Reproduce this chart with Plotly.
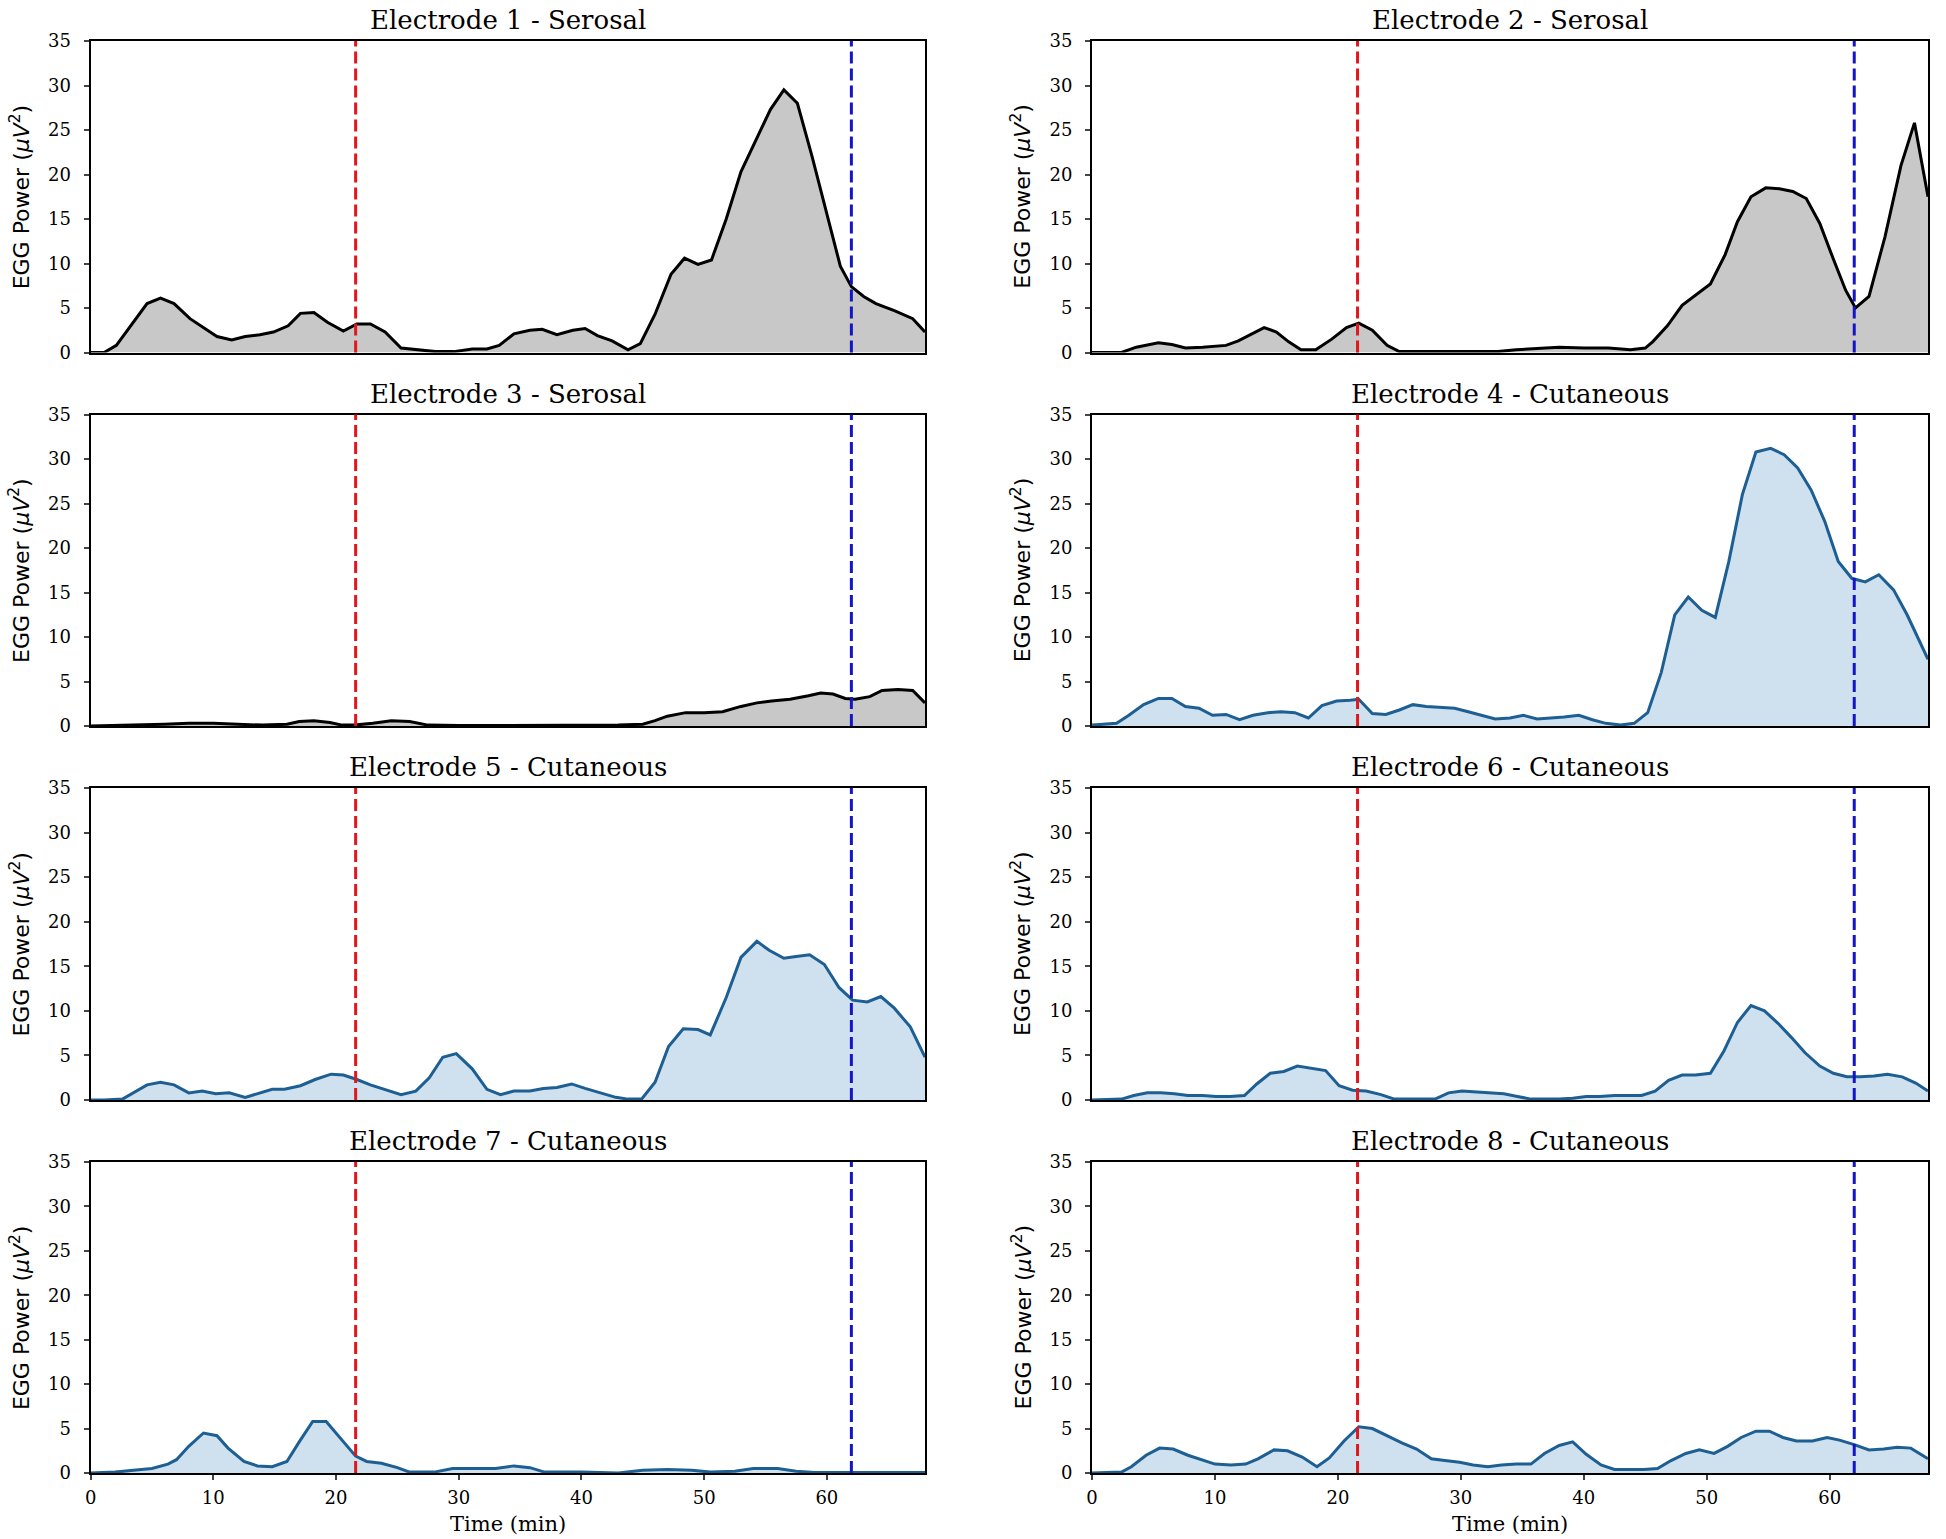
import plotly.graph_objects as go

# ---------------- data ----------------
titles = ["Electrode 1 - Serosal", "Electrode 2 - Serosal", "Electrode 3 - Serosal",
          "Electrode 4 - Cutaneous", "Electrode 5 - Cutaneous", "Electrode 6 - Cutaneous",
          "Electrode 7 - Cutaneous", "Electrode 8 - Cutaneous"]
kinds = ["serosal", "serosal", "serosal", "cutaneous", "cutaneous", "cutaneous", "cutaneous", "cutaneous"]
y_label = "EGG Power (<i>μV</i><sup>2</sup>)"
x_label = "Time (min)"

e1_t = [0, 1.1, 2.1, 4.6, 5.7, 6.8, 8.1, 9.3, 10.3, 11.5, 12.6, 13.8, 14.9, 16.1, 17.1, 18.2, 19.3, 20.6,
        21.7, 22.8, 24.0, 25.3, 26.6, 28.1, 29.6, 31.1, 32.3, 33.3, 34.5, 35.8, 36.8, 38.0, 39.3, 40.3,
        41.3, 42.5, 43.8, 44.8, 46.0, 47.3, 48.4, 49.5, 50.6, 51.8, 53.0, 54.3, 55.4, 56.5, 57.6, 58.8,
        60.0, 61.1, 62.0, 63.0, 64.0, 65.5, 67.0, 68.0]
e1_v = [0, 0, 0.8, 5.5, 6.1, 5.5, 3.8, 2.7, 1.8, 1.4, 1.8, 2.0, 2.3, 3.0, 4.4, 4.5, 3.4, 2.4,
        3.2, 3.2, 2.3, 0.5, 0.3, 0.1, 0.1, 0.4, 0.4, 0.8, 2.1, 2.5, 2.6, 2.0, 2.5, 2.7,
        1.9, 1.3, 0.3, 1.0, 4.3, 8.8, 10.6, 9.9, 10.4, 15.0, 20.3, 24.0, 27.3, 29.5, 28.0, 22.0,
        15.5, 9.7, 7.4, 6.3, 5.5, 4.7, 3.8, 2.3]

e2_t = [0, 2.4, 3.6, 5.4, 6.5, 7.6, 9.0, 10.9, 11.9, 13.1, 14.0, 15.0, 16.0, 17.0, 18.2, 19.5, 20.7,
        21.7, 22.8, 24.0, 25.0, 27.0, 30.0, 33.0, 34.5, 36.4, 38.0, 40.0, 42.0, 43.8, 45.0, 45.6,
        46.8, 48.0, 49.2, 50.3, 51.5, 52.5, 53.6, 54.8, 55.9, 57.0, 58.1, 59.2, 60.3, 61.3, 62.1,
        63.2, 64.5, 65.8, 66.9, 68.0]
e2_v = [0, 0, 0.6, 1.1, 0.9, 0.5, 0.6, 0.8, 1.3, 2.2, 2.8, 2.3, 1.2, 0.3, 0.3, 1.5, 2.8,
        3.3, 2.5, 0.8, 0.1, 0.1, 0.1, 0.1, 0.3, 0.5, 0.6, 0.5, 0.5, 0.3, 0.5, 1.2,
        3.0, 5.3, 6.5, 7.7, 11.0, 14.7, 17.5, 18.5, 18.4, 18.1, 17.3, 14.5, 10.5, 7.0, 5.0,
        6.3, 13.0, 21.0, 25.8, 17.5]

e3_t = [0, 5, 6, 8, 10, 12, 14, 16, 17, 18.2, 19.5, 20.5, 21.5, 23, 24.5, 26, 27.5, 30, 35, 40,
        43, 45, 46, 47, 48.5, 50, 51.5, 53, 54.3, 55.5, 57, 58.5, 59.5, 60.5, 61.5, 62.3, 63.5,
        64.5, 65.8, 67, 68]
e3_v = [0, 0.1, 0.2, 0.3, 0.3, 0.2, 0.1, 0.2, 0.5, 0.6, 0.4, 0.1, 0.1, 0.3, 0.6, 0.5, 0.1, 0.05, 0.05, 0.1,
        0.1, 0.2, 0.6, 1.1, 1.5, 1.5, 1.6, 2.2, 2.6, 2.8, 3.0, 3.4, 3.7, 3.6, 3.1, 3.0, 3.3,
        4.0, 4.1, 4.0, 2.6]

e4_t = [0, 1.0, 2.0, 3.0, 4.2, 5.4, 6.5, 7.6, 8.7, 9.8, 10.9, 12.0, 13.1, 14.3, 15.4, 16.5, 17.6,
        18.7, 19.9, 21.0, 21.7, 22.8, 23.9, 25.0, 26.1, 27.2, 28.4, 29.5, 30.6, 31.7, 32.8, 34.0,
        35.1, 36.2, 37.3, 38.4, 39.6, 40.7, 41.8, 43.0, 44.1, 45.2, 46.3, 47.4, 48.5, 49.6, 50.7,
        51.8, 52.9, 54.0, 55.2, 56.3, 57.4, 58.5, 59.6, 60.7, 61.8, 62.9, 64.0, 65.2, 66.3, 68.0]
e4_v = [0.1, 0.2, 0.3, 1.2, 2.4, 3.1, 3.1, 2.2, 2.0, 1.2, 1.3, 0.7, 1.2, 1.5, 1.6, 1.5, 0.9,
        2.3, 2.8, 2.9, 3.0, 1.4, 1.3, 1.8, 2.4, 2.2, 2.1, 2.0, 1.6, 1.2, 0.8, 0.9,
        1.2, 0.8, 0.9, 1.0, 1.2, 0.7, 0.3, 0.1, 0.3, 1.5, 6.0, 12.5, 14.5, 13.0, 12.2,
        18.5, 26.0, 30.8, 31.2, 30.5, 29.0, 26.5, 23.0, 18.5, 16.6, 16.2, 17.0, 15.3, 12.5, 7.5]

e5_t = [0, 1.1, 2.6, 4.6, 5.7, 6.8, 8.0, 9.1, 10.2, 11.3, 12.6, 13.6, 14.8, 15.8, 17.1, 18.3, 19.6,
        20.6, 21.7, 22.8, 24.1, 25.3, 26.5, 27.6, 28.7, 29.8, 31.1, 32.3, 33.4, 34.5, 35.8, 36.9,
        38.0, 39.2, 40.3, 41.5, 42.8, 43.8, 44.9, 46.0, 47.1, 48.3, 49.5, 50.5, 51.8, 53.0, 54.3,
        55.3, 56.5, 57.5, 58.6, 59.8, 61.0, 62.1, 63.3, 64.4, 65.5, 66.8, 68.0]
e5_v = [0, 0, 0.1, 1.7, 2.0, 1.7, 0.8, 1.0, 0.7, 0.8, 0.3, 0.7, 1.2, 1.2, 1.6, 2.3, 2.9,
        2.8, 2.3, 1.7, 1.1, 0.6, 1.0, 2.5, 4.8, 5.2, 3.5, 1.2, 0.6, 1.0, 1.0, 1.3,
        1.4, 1.8, 1.3, 0.8, 0.3, 0.1, 0.1, 2.0, 6.0, 8.0, 7.9, 7.3, 11.5, 16.0, 17.8,
        16.8, 15.9, 16.1, 16.3, 15.2, 12.6, 11.2, 11.0, 11.6, 10.3, 8.2, 4.8]

e6_t = [0, 2.4, 3.4, 4.5, 5.6, 6.7, 7.8, 9.0, 10.1, 11.2, 12.4, 13.4, 14.5, 15.6, 16.7, 17.8, 19.0,
        20.1, 21.2, 22.3, 23.5, 24.6, 25.7, 26.8, 27.9, 29.0, 30.1, 31.3, 32.4, 33.5, 34.6, 35.7,
        36.8, 38.0, 39.1, 40.2, 41.3, 42.5, 43.6, 44.7, 45.8, 46.9, 48.0, 49.1, 50.3, 51.4, 52.5,
        53.6, 54.7, 55.8, 56.9, 58.0, 59.2, 60.3, 61.4, 62.5, 63.6, 64.7, 65.9, 67.0, 68.0]
e6_v = [0, 0.1, 0.5, 0.8, 0.8, 0.7, 0.5, 0.5, 0.4, 0.4, 0.5, 1.8, 3.0, 3.2, 3.8, 3.6, 3.3,
        1.6, 1.1, 1.0, 0.6, 0.1, 0.1, 0.1, 0.1, 0.8, 1.0, 0.9, 0.8, 0.7, 0.4, 0.1,
        0.1, 0.1, 0.2, 0.4, 0.4, 0.5, 0.5, 0.5, 1.0, 2.2, 2.8, 2.8, 3.0, 5.5, 8.7,
        10.6, 10.0, 8.6, 7.0, 5.3, 3.8, 3.0, 2.6, 2.6, 2.7, 2.9, 2.6, 1.9, 1.0]

e7_t = [0, 2, 3.5, 5, 6.3, 7, 8, 9.2, 10.3, 11.2, 12.5, 13.6, 14.8, 16, 17, 18.1, 19.2, 20.3,
        21.6, 22.5, 23.7, 25, 26, 28, 29.5, 31, 33, 34.5, 35.8, 37, 40, 43, 45, 47, 49, 50.5,
        52.5, 54, 56, 57.5, 59, 62, 68]
e7_v = [0, 0.1, 0.3, 0.5, 1.0, 1.5, 3.0, 4.5, 4.2, 2.8, 1.3, 0.8, 0.7, 1.3, 3.5, 5.8, 5.8, 4.0,
        1.9, 1.3, 1.1, 0.6, 0.1, 0.1, 0.5, 0.5, 0.5, 0.8, 0.6, 0.1, 0.1, 0.0, 0.3, 0.4, 0.3, 0.1,
        0.2, 0.5, 0.5, 0.2, 0.05, 0.05, 0.05]

e8_t = [0, 2.4, 3.2, 4.4, 5.5, 6.6, 7.8, 9.0, 10.0, 11.3, 12.5, 13.5, 14.8, 15.9, 17.1, 18.3, 19.3,
        20.5, 21.7, 22.8, 24.0, 25.2, 26.4, 27.6, 28.7, 29.9, 31.0, 32.2, 33.3, 34.5, 35.7, 36.8,
        38.0, 39.1, 40.2, 41.4, 42.5, 43.7, 44.9, 46.0, 47.1, 48.3, 49.4, 50.6, 51.7, 52.8, 54.0,
        55.1, 56.2, 57.3, 58.6, 59.8, 60.8, 62.0, 63.2, 64.4, 65.5, 66.6, 68.0]
e8_v = [0, 0.1, 0.7, 2.0, 2.8, 2.7, 2.0, 1.5, 1.0, 0.9, 1.0, 1.6, 2.6, 2.5, 1.8, 0.7, 1.7,
        3.6, 5.2, 5.0, 4.2, 3.4, 2.7, 1.6, 1.4, 1.2, 0.9, 0.7, 0.9, 1.0, 1.0, 2.2,
        3.1, 3.5, 2.1, 0.9, 0.4, 0.4, 0.4, 0.5, 1.4, 2.2, 2.6, 2.2, 3.0, 4.0, 4.7,
        4.7, 4.0, 3.6, 3.6, 4.0, 3.7, 3.2, 2.6, 2.7, 2.9, 2.8, 1.6]

times = [e1_t, e2_t, e3_t, e4_t, e5_t, e6_t, e7_t, e8_t]
values = [e1_v, e2_v, e3_v, e4_v, e5_v, e6_v, e7_v, e8_v]

meal_start = 21.6   # red dashed marker (min)
meal_end = 62.0     # blue dashed marker (min)
x_ticks = [0, 10, 20, 30, 40, 50, 60]
y_ticks = [0, 5, 10, 15, 20, 25, 30, 35]

# ---------------- styling ----------------
W, H = 1946, 1539
col_px = [(90.6, 925.0), (1092.0, 1928.0)]
row_px = [(41, 352.5), (414.6, 726), (788, 1100), (1162, 1473)]
col_x = [(a / W, b / W) for a, b in col_px]
row_dom = [(1 - b / H, 1 - t / H) for t, b in row_px]

style = {
    "serosal": dict(line="#000000", fill="#c8c8c8"),
    "cutaneous": dict(line="#1d5f93", fill="#cfe1ee"),
}
serif = "DejaVu Serif"

fig = go.Figure()
annotations = []
shapes = []
for i in range(8):
    r, c = divmod(i, 2)
    n = i + 1
    xa = "x" if n == 1 else f"x{n}"
    ya = "y" if n == 1 else f"y{n}"
    st = style[kinds[i]]
    fig.add_trace(go.Scatter(x=times[i], y=values[i], mode="lines", fill="tozeroy",
                             fillcolor=st["fill"], line=dict(color=st["line"], width=3),
                             xaxis=xa, yaxis=ya, showlegend=False, hoverinfo="skip"))
    bottom = (r == 3)
    fig.layout[("xaxis" if n == 1 else f"xaxis{n}")] = dict(
        domain=list(col_x[c]), range=[0, 68], anchor=ya, tickvals=x_ticks, automargin=False,
        showticklabels=bottom, ticks="outside" if bottom else "", ticklen=5, tickwidth=1.5,
        ticklabelstandoff=2,
        showline=True, mirror=True, linecolor="black", linewidth=2, showgrid=False, zeroline=False,
        tickfont=dict(family=serif, size=18, color="black"),
    )
    fig.layout[("yaxis" if n == 1 else f"yaxis{n}")] = dict(
        domain=list(row_dom[r]), range=[0, 35], anchor=xa, tickvals=y_ticks, automargin=False,
        ticks="outside", ticklen=5, tickwidth=1.5, ticklabelstandoff=9,
        showline=True, mirror=True, linecolor="black", linewidth=2, showgrid=False, zeroline=False,
        tickfont=dict(family=serif, size=18, color="black"),
    )
    for xv, colr in [(meal_start, "#e3161c"), (meal_end, "#1515c8")]:
        shapes.append(dict(type="line", xref=xa, yref=f"{ya} domain", x0=xv, x1=xv, y0=0, y1=1,
                           line=dict(color=colr, width=3, dash="12px,5px"), layer="above"))
    # panel title
    annotations.append(dict(text=titles[i], xref="paper", yref="paper",
                            x=(col_x[c][0] + col_x[c][1]) / 2, y=row_dom[r][1],
                            xanchor="center", yanchor="bottom", yshift=4, showarrow=False,
                            font=dict(family=serif, size=26, color="black")))
    # y axis title
    annotations.append(dict(text=y_label, xref="paper", yref="paper",
                            x=(col_px[c][0] - 71) / W, y=(row_dom[r][0] + row_dom[r][1]) / 2,
                            xanchor="center", yanchor="middle", textangle=-90, showarrow=False,
                            font=dict(family="DejaVu Sans", size=22, color="black")))
    if bottom:
        annotations.append(dict(text=x_label, xref="paper", yref="paper",
                                x=(col_x[c][0] + col_x[c][1]) / 2, y=1 - 1524 / H,
                                xanchor="center", yanchor="middle", showarrow=False,
                                font=dict(family=serif, size=21, color="black")))

fig.update_layout(width=W, height=H, margin=dict(l=0, r=0, t=0, b=0),
                  paper_bgcolor="white", plot_bgcolor="white",
                  annotations=annotations, shapes=shapes)

fig.write_html("out.html", config={"displayModeBar": False},
               post_script="document.body.style.margin='0px';")
